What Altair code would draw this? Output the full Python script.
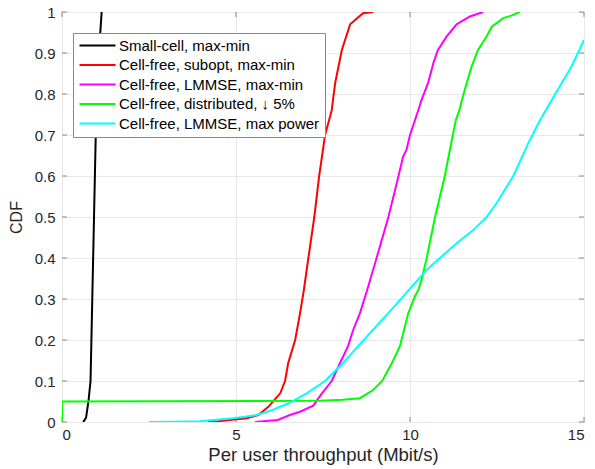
import altair as alt
import pandas as pd

# Empirical CDF curves of per-user throughput (Mbit/s)
small_x = [0.61, 0.69, 0.76, 0.82, 0.87, 0.92, 0.97, 1.06, 1.10, 1.14]
small_y = [0.0, 0.01, 0.05, 0.10, 0.30, 0.50, 0.70, 0.90, 0.95, 1.0]

subopt_x = [4.2, 4.5, 5.3, 5.64, 5.93, 6.27, 6.41, 6.5, 6.7, 6.84, 6.95, 7.08,
            7.25, 7.39, 7.56, 7.75, 7.85, 8.04, 8.28, 8.65, 8.94]
subopt_y = [0.0, 0.002, 0.009, 0.017, 0.037, 0.07, 0.10, 0.144, 0.20, 0.265,
            0.322, 0.40, 0.50, 0.60, 0.70, 0.76, 0.827, 0.907, 0.97, 0.997, 1.0]

lmmse_x = [5.55, 6.2, 6.55, 6.84, 7.22, 7.47, 7.75, 7.99, 8.22, 8.37, 8.56, 8.77,
           9.04, 9.38, 9.67, 9.8, 9.9, 10.0, 10.24, 10.33, 10.52, 10.67, 10.8,
           11.05, 11.34, 11.72, 12.1]
lmmse_y = [0.0, 0.005, 0.017, 0.025, 0.04, 0.07, 0.10, 0.144, 0.185, 0.225,
           0.265, 0.322, 0.40, 0.50, 0.60, 0.647, 0.664, 0.70, 0.761, 0.785,
           0.827, 0.875, 0.907, 0.94, 0.97, 0.989, 1.0]

dist_x = [0.0, 0.0, 7.41, 8.07, 8.56, 8.94, 9.2, 9.48, 9.71, 9.83, 9.95, 10.14,
          10.24, 10.33, 10.48, 10.72, 11.0, 11.23, 11.32, 11.42, 11.49, 11.63,
          11.77, 11.95, 12.2, 12.35, 12.68, 12.87, 13.16]
dist_y = [0.0, 0.05, 0.052, 0.054, 0.058, 0.078, 0.10, 0.144, 0.185, 0.225,
          0.265, 0.306, 0.322, 0.346, 0.40, 0.50, 0.60, 0.70, 0.737, 0.761,
          0.785, 0.827, 0.867, 0.907, 0.94, 0.964, 0.985, 0.99, 1.0]

maxpow_x = [2.5, 3.2, 3.97, 4.92, 5.6, 6.03, 6.5, 7.03, 7.56, 8.08, 8.51, 8.94,
            9.37, 9.8, 10.05, 10.48, 10.86, 11.34, 11.82, 12.2, 12.49, 12.97,
            13.4, 13.74, 14.07, 14.36, 14.64, 15.0]
maxpow_y = [0.0, 0.0005, 0.002, 0.009, 0.017, 0.029, 0.045, 0.07, 0.10, 0.144,
            0.185, 0.225, 0.265, 0.306, 0.33, 0.371, 0.40, 0.436, 0.468, 0.50,
            0.534, 0.60, 0.68, 0.737, 0.785, 0.827, 0.867, 0.932]

names = [
    "Small-cell, max-min",
    "Cell-free, subopt, max-min",
    "Cell-free, LMMSE, max-min",
    "Cell-free, distributed, \u2193 5%",
    "Cell-free, LMMSE, max power",
]
colors = ["#000000", "#ff0000", "#ff00ff", "#00ff00", "#00ffff"]
series = [(small_x, small_y), (subopt_x, subopt_y), (lmmse_x, lmmse_y),
          (dist_x, dist_y), (maxpow_x, maxpow_y)]

x_ticks = [0, 5, 10, 15]
y_ticks = [round(0.1 * i, 1) for i in range(11)]

rows = []
for name, (xs, ys) in zip(names, series):
    for i, (xv, yv) in enumerate(zip(xs, ys)):
        rows.append({"series": name, "idx": i, "x": xv, "y": yv})
df = pd.DataFrame(rows)

W, H = 522, 410
FONT = "Liberation Sans"
FRAME = "#8a8a8a"
TICK_LEN = 5

xs = alt.Scale(domain=[0, 15], nice=False)
ys = alt.Scale(domain=[0, 1], nice=False)

lines = alt.Chart(df).mark_line(strokeWidth=2, clip=True).encode(
    x=alt.X("x:Q", scale=xs, title="Per user throughput (Mbit/s)",
            axis=alt.Axis(values=x_ticks, format="d", titleFontSize=18.5)),
    y=alt.Y("y:Q", scale=ys, title="CDF",
            axis=alt.Axis(values=y_ticks, format=".1~f", titleFontSize=16)),
    color=alt.Color(
        "series:N",
        scale=alt.Scale(domain=names, range=colors),
        legend=alt.Legend(
            orient="none", legendX=11, legendY=21, title=None,
            symbolType="M-3,0H3", symbolSize=144, symbolStrokeWidth=2,
            symbolOffset=12, labelOffset=14,
            labelFont=FONT, labelFontSize=15, labelColor="#000000",
            labelLimit=0, rowPadding=3.5, padding=5,
            fillColor="#ffffff", strokeColor=FRAME, cornerRadius=0,
        ),
    ),
    order=alt.Order("idx:Q"),
)

xt = pd.DataFrame({"t": x_ticks})
yt = pd.DataFrame({"t": y_ticks})

tick_style = dict(color=FRAME, strokeWidth=1)
bottom_ticks = alt.Chart(xt).mark_rule(**tick_style).encode(
    x=alt.X("t:Q", scale=xs), y=alt.value(H), y2=alt.value(H - TICK_LEN))
top_ticks = alt.Chart(xt).mark_rule(**tick_style).encode(
    x=alt.X("t:Q", scale=xs), y=alt.value(0), y2=alt.value(TICK_LEN))
left_ticks = alt.Chart(yt).mark_rule(**tick_style).encode(
    y=alt.Y("t:Q", scale=ys), x=alt.value(0), x2=alt.value(TICK_LEN))
right_ticks = alt.Chart(yt).mark_rule(**tick_style).encode(
    y=alt.Y("t:Q", scale=ys), x=alt.value(W), x2=alt.value(W - TICK_LEN))

chart = alt.layer(
    bottom_ticks, top_ticks, left_ticks, right_ticks, lines
).properties(
    width=W, height=H,
    autosize=alt.AutoSizeParams(type="none"),
    padding={"left": 62, "top": 12, "right": 11, "bottom": 47},
).configure_view(
    stroke=FRAME, strokeWidth=1,
).configure_axis(
    grid=True, gridColor="#e8e8e8", gridWidth=1,
    domain=False, ticks=False,
    labelFont=FONT, labelFontSize=15, labelColor="#262626",
    titleFont=FONT, titleFontWeight="normal",
    titleColor="#262626",
).configure_axisX(
    labelPadding=5, titlePadding=3,
).configure_axisY(
    labelPadding=7, titlePadding=10,
)

chart.save("out.html", embed_options={"renderer": "svg", "actions": False})
